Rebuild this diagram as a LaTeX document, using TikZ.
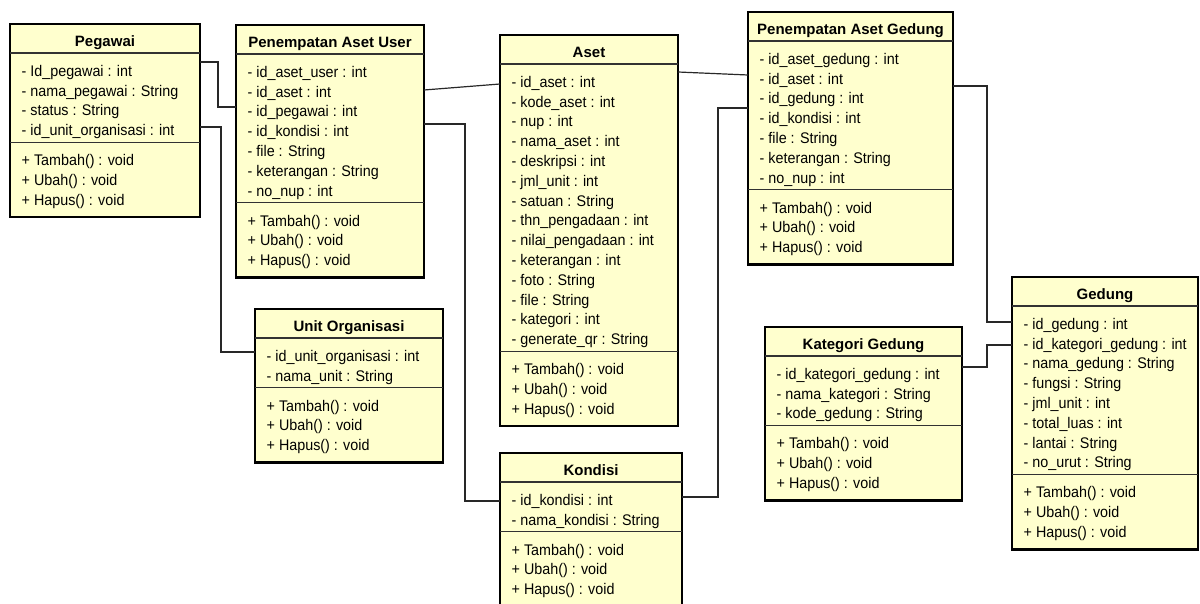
\documentclass[tikz,border=0pt]{standalone}
\usepackage{fontspec}
\setmainfont{Liberation Sans}
\newfontfamily\attrfont[FakeStretch=0.93]{Liberation Sans}
\usetikzlibrary{calc}
\definecolor{umlfill}{RGB}{255,255,206}
\definecolor{sepcol}{RGB}{50,50,50}
\definecolor{conncol}{RGB}{40,40,40}
\tikzset{
  classbox/.style={draw=black, line width=2.6pt, fill=umlfill, inner sep=0pt, outer sep=0pt},
  sepline/.style={draw=sepcol, line width=1.3pt},
  titletext/.style={font=\fontsize{15}{18}\selectfont\bfseries, inner sep=0pt, text height=10.5pt, text depth=3pt},
  attr/.style={font=\attrfont\fontsize{15.4}{18}\selectfont, anchor=west, inner sep=0pt, text height=10.5pt, text depth=3pt},
  conn/.style={draw=conncol, line width=1.2pt}
}
\newcommand\umlclass[7]{%
  \node[classbox, minimum width=#4, minimum height={133.6+(#5-1)*19.8}, anchor=north west] (#1) at (#2,#3) {};
  \draw[sepline] ($(#1.north west)+(0,29)$) -- ($(#1.north east)+(0,29)$);
  \draw[sepline] ($(#1.north west)+(0,{59+(#5-1)*19.8})$) -- ($(#1.north east)+(0,{59+(#5-1)*19.8})$);
  \node[titletext] (#1-title) at ($(#1.north)+(0,18.5)$) {#6};
  \foreach \a [count=\i] in {#7} {\node[attr] (#1-a\i) at ($(#1.north west)+(11.5,{48.5+(\i-1)*19.8})$) {\a};}
  \foreach \a [count=\i] in {+ Tambah() : void, + Ubah() : void, + Hapus() : void} {\node[attr] (#1-m\i) at ($(#1.north west)+(11.5,{78.5+(#5-1)*19.8+(\i-1)*19.8})$) {\a};}
}
\begin{document}
\begin{tikzpicture}[x=1pt,y=-1pt]
\useasboundingbox (0,0) rectangle (1200,604);

\umlclass{peg}{10}{24}{190}{4}{Pegawai}{- Id\_pegawai : int, - nama\_pegawai : String, - status : String, - id\_unit\_organisasi : int}
\umlclass{pau}{236}{25}{188}{7}{Penempatan Aset User}{- id\_aset\_user : int, - id\_aset : int, - id\_pegawai : int, - id\_kondisi : int, - file : String, - keterangan : String, - no\_nup : int}
\umlclass{aset}{500}{35}{178}{14}{Aset}{- id\_aset : int, - kode\_aset : int, - nup : int, - nama\_aset : int, - deskripsi : int, - jml\_unit : int, - satuan : String, - thn\_pengadaan : int, - nilai\_pengadaan : int, - keterangan : int, - foto : String, - file : String, - kategori : int, - generate\_qr : String}
\umlclass{pag}{748}{12}{205}{7}{Penempatan Aset Gedung}{- id\_aset\_gedung : int, - id\_aset : int, - id\_gedung : int, - id\_kondisi : int, - file : String, - keterangan : String, - no\_nup : int}
\umlclass{uo}{255}{309}{188}{2}{Unit Organisasi}{- id\_unit\_organisasi : int, - nama\_unit : String}
\umlclass{kon}{500}{453}{182}{2}{Kondisi}{- id\_kondisi : int, - nama\_kondisi : String}
\umlclass{kg}{765}{327}{197}{3}{Kategori Gedung}{- id\_kategori\_gedung : int, - nama\_kategori : String, - kode\_gedung : String}
\umlclass{ged}{1012}{277}{186}{8}{Gedung}{- id\_gedung : int, - id\_kategori\_gedung : int, - nama\_gedung : String, - fungsi : String, - jml\_unit : int, - total\_luas : int, - lantai : String, - no\_urut : String}

\draw[conn] ($(peg.north east)+(0,38)$) -- ++(18,0) |- ($(pau.north west)+(0,82)$);
\draw[conn] ($(peg.north east)+(0,103)$) -- ++(21,0) |- ($(uo.north west)+(0,43)$);
\draw[conn] ($(pau.north east)+(0,65)$) -- ($(aset.north west)+(0,49)$);
\draw[conn] ($(pau.north east)+(0,99)$) -- ++(41,0) |- ($(kon.north west)+(0,48)$);
\draw[conn] ($(aset.north east)+(0,37)$) -- ($(pag.north west)+(0,63)$);
\draw[conn] ($(pag.north west)+(0,96)$) -- ++(-30,0) |- ($(kon.north east)+(0,44)$);
\draw[conn] ($(pag.north east)+(0,74)$) -- ++(34,0) |- ($(ged.north west)+(0,45)$);
\draw[conn] ($(kg.north east)+(0,40)$) -- ++(25,0) |- ($(ged.north west)+(0,68)$);
\end{tikzpicture}
\end{document}
